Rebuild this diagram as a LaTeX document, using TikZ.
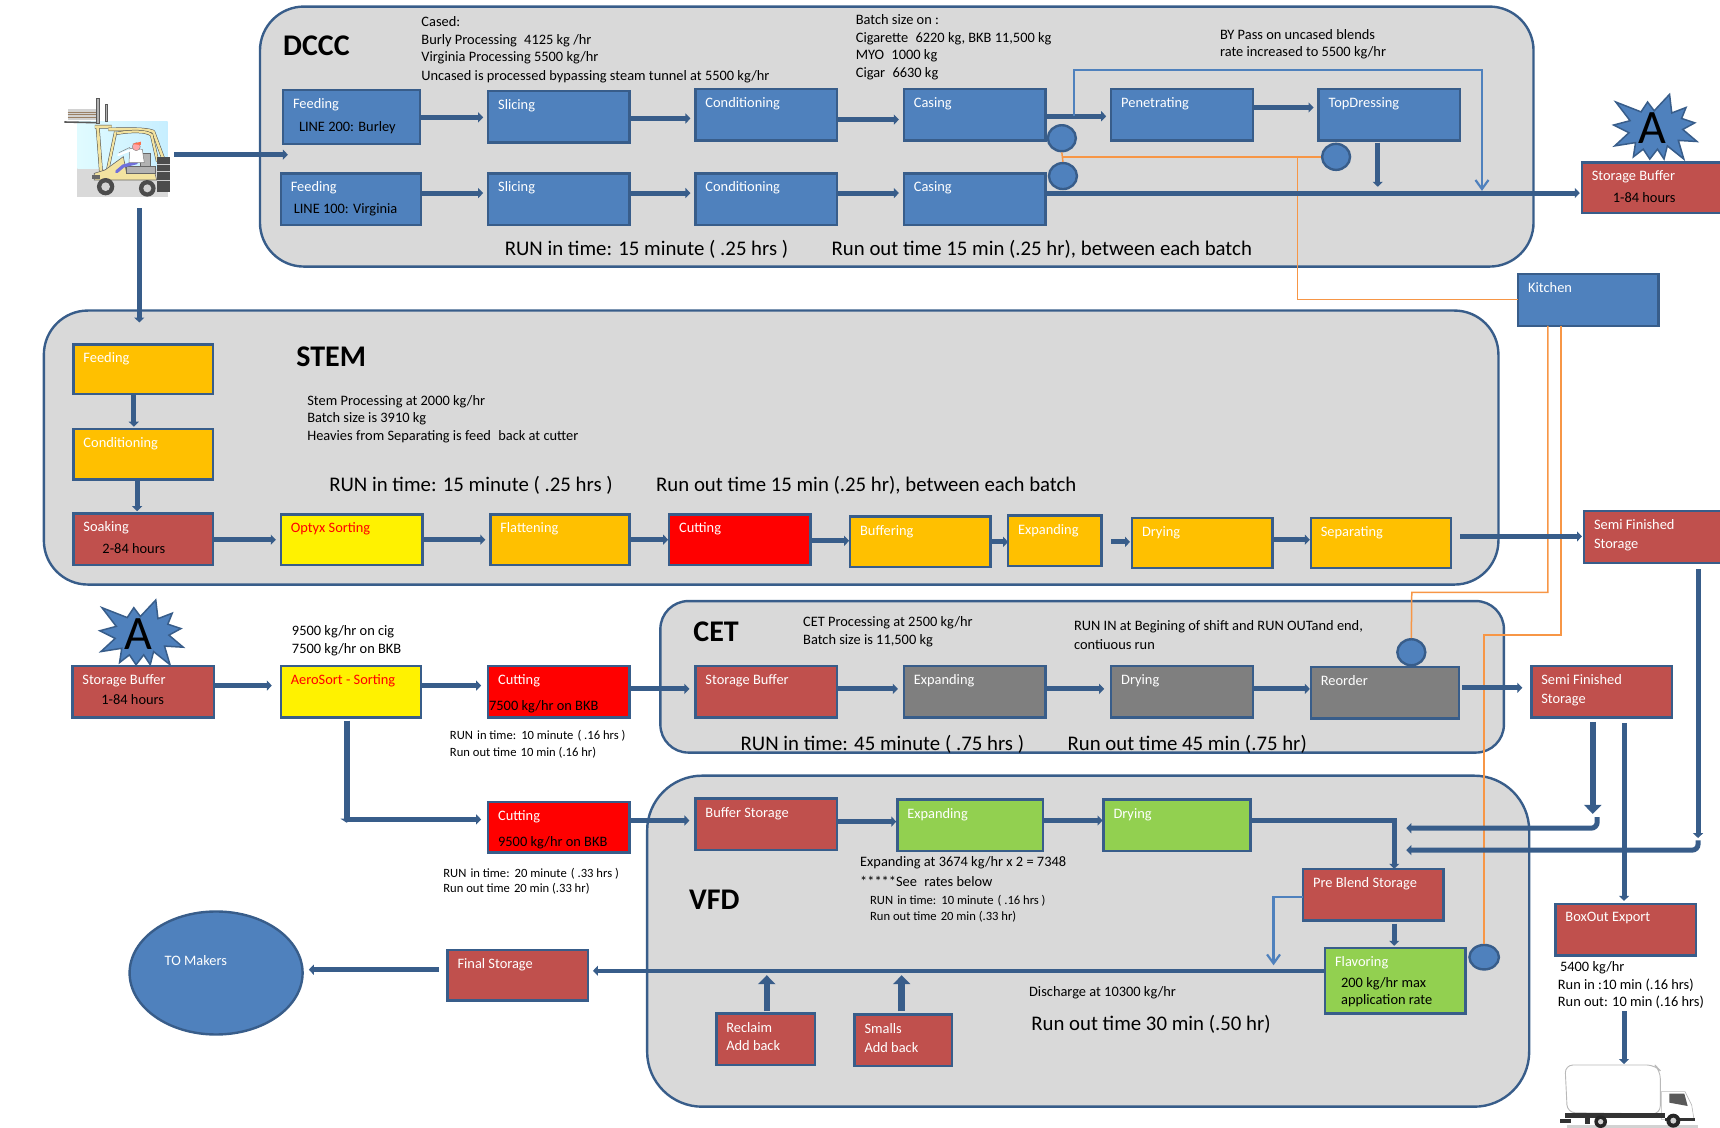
\documentclass[tikz,border=0pt]{standalone}
\usepackage{fontspec}
\setmainfont{Carlito}
\usetikzlibrary{arrows.meta,shapes.geometric}
\definecolor{ln}{HTML}{385D8A}
\definecolor{bl}{HTML}{4F81BD}
\definecolor{rd}{HTML}{C0504D}
\definecolor{gn}{HTML}{92D050}
\definecolor{am}{HTML}{FFC000}
\definecolor{gy}{HTML}{7F7F7F}
\definecolor{pn}{HTML}{D9D9D9}
\definecolor{og}{HTML}{F79646}
\definecolor{py}{HTML}{F3E3A0}
\newcounter{tn}
\newcommand\bx[7]{%
 \pgfmathsetlengthmacro\bw{1.0969*(#5-#3)*1pt}%
 \pgfmathsetlengthmacro\bh{1.0969*(#6-#4)*1pt}%
 \pgfmathsetlengthmacro\biw{\bw-20pt}%
 \pgfmathsetlengthmacro\bih{\bh-5pt}%
 \node[bxs,#2,minimum width=\bw,minimum height=\bh] (#1) at ({(#3+#5)/2},{(#4+#6)/2}) {\parbox[c][\bih][t]{\biw}{\raggedright\vspace*{6pt}#7}};}
\newcommand\tl[4][]{\stepcounter{tn}\node[txt,#1] (t\arabic{tn}) at (#2,#3) {#4};}
\newcommand\hc[4][]{\draw[arr,#1] (#2.east |- 0,#4) -- (#3.west |- 0,#4);}
\newcommand\blk[1]{\textcolor{black}{#1}}
\newcommand\dsp{\hspace{0.28em}}
\newcommand\dss{\hspace{0.1em}}
\newcommand\burst[3]{%
 \begin{scope}[shift={(#1,#2)}]
 \draw[ln,line width=1.5pt,fill=bl,line join=miter] (14,-30)--(16,-13)--(29,-18)--(25,-8)--(37,-4)--(26,2)--(39,13)--(22,12)--(27,29)--(12,17)--(9,29)--(3,20)--(-4,29)--(-10,20)--(-19,27)--(-17,14)--(-36,17)--(-23,5)--(-37,-2)--(-22,-6)--(-35,-23)--(-12,-14)--(-6,-23)--(0,-15)--cycle;
 \node[inner sep=0,font=\fontsize{48}{48}\selectfont,text=black] (#3) at (-2,1) {A};
 \end{scope}}
\tikzset{
 bxs/.style={draw=ln,line width=2.4pt,rectangle,inner sep=0pt,outer sep=0pt,text=white,font=\fontsize{14.4}{18}\selectfont},
 fblue/.style={fill=bl},
 fred/.style={fill=rd},
 fgreen/.style={fill=gn},
 famber/.style={fill=am},
 fgray/.style={fill=gy},
 fbright/.style={fill=red},
 fyellow/.style={fill=yellow,text=red},
 panel/.style={draw=ln,line width=2.4pt,fill=pn,rectangle,rounded corners=#1,inner sep=0pt},
 txt/.style={anchor=west,inner sep=0pt,yshift=-1pt,text=black,font=\fontsize{14.4}{18}\selectfont},
 big/.style={font=\fontsize{20.8}{22}\selectfont},
 small/.style={font=\fontsize{12.6}{15}\selectfont},
 ttl/.style={font=\fontsize{30}{32}\bfseries\selectfont},
 arr/.style={draw=ln,line width=5pt,shorten >=5pt,-{Triangle[length=5pt,width=10pt]}},
 fat/.style={draw=ln,line width=6.5pt,shorten >=0pt,-{Triangle[length=9pt,width=17pt]}},
 thin/.style={draw=bl,line width=2.2pt,-{Straight Barb[length=9pt,width=13pt]}},
 org/.style={draw=og,line width=1.5pt},
 circ/.style={ellipse,draw=ln,line width=2.4pt,fill=bl,inner sep=0pt,minimum width=28pt,minimum height=26pt},
}
\begin{document}
\begin{tikzpicture}[x=1.0969pt,y=-1.0969pt]
\useasboundingbox (0,0) rectangle (1568,1028.3);
\clip (0,0) rectangle (1568,1028.3);
% panels
\node[panel=44pt,minimum width=1273.5pt,minimum height=260pt] (dccc) at (817.5,124.5) {};
\node[panel=44pt,minimum width=1454.5pt,minimum height=274pt] (stem) at (703,408) {};
\node[panel=28pt,minimum width=843.5pt,minimum height=151.5pt] (cet) at (986.5,617) {};
\node[panel=55pt,minimum width=882pt,minimum height=331pt] (vfd) at (992,858) {};
% stars (under their boxes)
\burst{1508}{116}{a1}
\burst{128}{577}{a2}
% DCCC
\bx{f1}{fblue}{258}{82}{383}{131}{Feeding\\[5pt]\hspace*{6pt}\blk{LINE 200: Burley}}
\bx{s1}{fblue}{445}{83}{574}{130}{Slicing}
\bx{c1}{fblue}{634}{81}{763}{128}{Conditioning}
\bx{k1}{fblue}{824}{81}{953}{128}{Casing}
\bx{p1}{fblue}{1013}{81}{1142}{128}{Penetrating}
\bx{d1}{fblue}{1202}{81}{1331}{128}{TopDressing}
\bx{f2}{fblue}{256}{158}{384}{205}{Feeding\\[4pt]\hspace*{3pt}\blk{LINE 100: Virginia}}
\bx{s2}{fblue}{445}{158}{574}{205}{Slicing}
\bx{c2}{fblue}{634}{158}{763}{205}{Conditioning}
\bx{k2}{fblue}{824}{158}{953}{205}{Casing}
\bx{sb1}{fred}{1442}{148}{1572}{194}{Storage Buffer\\[4pt]\hspace*{21pt}\blk{1-84 hours}}
\bx{kit}{fblue}{1384}{250}{1512}{297}{Kitchen}
\node[circ] (o1) at (968,126) {};
\node[circ] (o2) at (969,160.5) {};
\node[circ] (o3) at (1218,143) {};
% STEM
\bx{sf}{famber}{67}{314}{194}{359}{Feeding}
\bx{sc}{famber}{67}{391}{194}{437}{Conditioning}
\bx{ss}{fred}{67}{468}{194}{515}{Soaking\\[4pt]\hspace*{19pt}\blk{2-84 hours}}
\bx{so}{fyellow}{256}{469}{385}{515}{Optyx Sorting}
\bx{sl}{famber}{447}{469}{574}{515}{Flattening}
\bx{su}{fbright}{610}{469}{739}{515}{Cutting}
\bx{sb}{famber}{775}{471}{903}{517}{Buffering}
\bx{se}{famber}{919}{470}{1004}{516}{Expanding}
\bx{sd}{famber}{1032}{472}{1160}{518}{Drying}
\bx{sp}{famber}{1195}{472}{1323}{518}{Separating}
\bx{sm1}{fred}{1444}{466}{1572}{513}{Semi Finished\\[1pt]Storage}
% row 3
\bx{sb2}{fred}{66}{607}{195}{654}{Storage Buffer\\[2pt]\hspace*{19pt}\blk{1-84 hours}}
\bx{ae}{fyellow}{256}{607}{384}{654}{AeroSort - Sorting}
\bx{cu1}{fbright}{445}{607}{574}{654}{Cutting\\[8pt]\hspace*{-9pt}\blk{7500 kg/hr on BKB}}
\bx{cb}{fred}{634}{607}{763}{654}{Storage Buffer}
\bx{ce}{fgray}{824}{607}{953}{654}{Expanding}
\bx{cd}{fgray}{1013}{607}{1142}{654}{Drying}
\bx{cr}{fgray}{1195}{608}{1330}{655}{Reorder}
\bx{sm2}{fred}{1396}{607}{1524}{654}{Semi Finished\\[1pt]Storage}
\node[circ] (o4) at (1286.6,594.6) {};
% row 4 / VFD
\bx{cu2}{fbright}{445}{731}{574}{777}{Cutting\\[8pt]\blk{9500 kg/hr on BKB}}
\bx{vb}{fred}{634}{728}{763}{775}{Buffer Storage}
\bx{ve}{fgreen}{818}{729}{951}{776}{Expanding}
\bx{vd}{fgreen}{1006}{729}{1140}{776}{Drying}
\bx{pb}{fred}{1188}{792}{1316}{839}{Pre Blend Storage}
\bx{fl}{fgreen}{1208}{864}{1336}{924}{Flavoring\\[3pt]\hspace*{6pt}\blk{200 kg/hr max}\\[-1pt]\hspace*{6pt}\blk{application rate}}
\bx{fs}{fred}{408}{866}{536}{912}{Final Storage}
\bx{re}{fred}{653}{924}{743}{971}{Reclaim\\Add back}
\bx{sa}{fred}{779}{925}{868}{972}{Smalls\\[1pt]Add back}
\bx{bo}{fred}{1418}{824}{1546}{871}{BoxOut Export}
\node[circ,minimum width=29.5pt,minimum height=24.5pt] (o5) at (1353,872.6) {};
\node[ellipse,draw=ln,line width=2.4pt,fill=bl,minimum width=173pt,minimum height=123pt,inner sep=0pt] (mk) at (197,887) {};
\tl[text=white]{150}{875}{TO Makers}
% titles
\tl[ttl]{258}{41}{DCCC}
\tl[ttl]{270}{324.5}{STEM}
\tl[ttl]{632}{575}{CET}
\tl[ttl]{628}{819}{VFD}
% notes
\tl{384}{19}{Cased:}
\tl{384}{36}{Burly Processing\dsp{} 4125 kg /hr}
\tl{384}{52}{Virginia Processing 5500 kg/hr}
\tl{384}{69}{Uncased is processed bypassing steam tunnel at 5500 kg/hr}
\tl{780}{17}{Batch size on :}
\tl{780}{34}{Cigarette\dsp{} 6220 kg, BKB 11,500 kg}
\tl{780}{50}{MYO\dsp{} 1000 kg}
\tl{780}{66}{Cigar\dsp{} 6630 kg}
\tl{1112}{31}{BY Pass on uncased blends}
\tl{1112}{47}{rate increased to 5500 kg/hr}
\tl[big]{460}{226.5}{RUN in time: 15 minute ( .25 hrs )}
\tl[big]{758}{226.5}{Run out time 15 min (.25 hr), between each batch}
\tl{280}{365}{Stem Processing at 2000 kg/hr}
\tl{280}{381}{Batch size is 3910 kg}
\tl{280}{397}{Heavies from Separating is feed\dsp{} back at cutter}
\tl[big]{300}{441.5}{RUN in time: 15 minute ( .25 hrs )}
\tl[big]{598}{441.5}{Run out time 15 min (.25 hr), between each batch}
\tl{266}{575}{9500 kg/hr on cig}
\tl{266}{591}{7500 kg/hr on BKB}
\tl{732}{567}{CET Processing at 2500 kg/hr}
\tl{732}{583}{Batch size is 11,500 kg}
\tl{979}{570}{RUN IN at Begining of shift and RUN OUTand end,}
\tl{979}{587}{contiuous run}
\tl[small]{410}{670}{RUN\dss{} in time:\dss{} 10 minute\dss{} ( .16 hrs )}
\tl[small]{410}{685}{Run out time\dss{} 10 min (.16 hr)}
\tl[small]{404}{796}{RUN\dss{} in time:\dss{} 20 minute\dss{} ( .33 hrs )}
\tl[small]{404}{809}{Run out time\dss{} 20 min (.33 hr)}
\tl[big]{675}{677.5}{RUN in time: 45 minute ( .75 hrs )}
\tl[big]{973}{677.5}{Run out time 45 min (.75 hr)}
\tl{784}{786}{Expanding at 3674 kg/hr x 2 = 7348}
\tl{784}{803}{*****See\dsp{} rates below}
\tl[small]{793}{820}{RUN\dss{} in time:\dss{} 10 minute\dss{} ( .16 hrs )}
\tl[small]{793}{835}{Run out time\dss{} 20 min (.33 hr)}
\tl{938}{904}{Discharge at 10300 kg/hr}
\tl[big]{940}{932.5}{Run out time 30 min (.50 hr)}
\tl{1422}{881}{5400 kg/hr}
\tl{1420}{897}{Run in :10 min (.16 hrs)}
\tl{1420}{913}{Run out: 10 min (.16 hrs)}
% forklift picture
\begin{scope}[shift={(50.1,82.05)},scale=.3039]
\fill[gray!30] (67,95) rectangle (338,320);
\fill[left color=blue!12!cyan!12!white,right color=blue!30!cyan!22!white] (67,95) rectangle (338,235);
\fill[gray!35] (38,58) rectangle (125,90);
\draw[brown!40!gray,line width=.8pt] (38,66)--(125,66) (38,74)--(125,74) (38,82)--(125,82);
\draw[gray!70!black,line width=1.6pt] (28,96)--(125,98);
\fill[gray!60] (123,25) rectangle (133,100);
\fill[gray!60] (150,42) rectangle (157,95);
\draw[gray!70!black,line width=.6pt] (123,25) rectangle (133,100) (150,42) rectangle (157,95);
% frame
\draw[black!70,line width=3.8pt,line join=round] (120,110)--(170,110) (128,110)--(140,270);
\draw[py,line width=2.8pt,line join=round] (120,110)--(170,110) (128,110)--(140,270);
\draw[black!70,line width=3.6pt,line join=round] (160,118) .. controls (220,118) and (270,115) .. (295,125) -- (330,220);
\draw[py,line width=2.6pt,line join=round] (160,118) .. controls (220,118) and (270,115) .. (295,125) -- (330,220);
\draw[black!70,line width=3.2pt] (182,125)--(155,255);
\draw[py,line width=2.2pt] (182,125)--(155,255);
\draw[black!70,line width=3.2pt] (185,130) .. controls (230,122) and (275,122) .. (290,135) -- (308,215);
\draw[py,line width=2.2pt] (185,130) .. controls (230,122) and (275,122) .. (290,135) -- (308,215);
% body
\fill[py,draw=black!60,line width=.6pt] (150,240)--(205,200)--(215,250)--(300,250)--(305,270)--(118,270)--(118,250)--cycle;
\fill[gray!60,draw=black!60,line width=.5pt] (215,228) rectangle (300,250);
\fill[gray!60,draw=black!60,line width=.5pt] (255,190) rectangle (285,230);
\fill[black!70] (305,200) rectangle (345,305);
\draw[gray!40,line width=.6pt] (305,222)--(345,222) (305,245)--(345,245) (305,270)--(345,270);
\fill[black!60] (112,255) rectangle (135,268);
% driver
\draw[blue!60!gray!70,line width=3.2pt,line cap=round] (245,218)--(205,228)--(185,245);
\fill[white,draw=black!50,line width=.5pt] (225,175)--(262,178)--(268,218)--(222,218)--cycle;
\draw[white,line width=2.2pt,line cap=round] (228,180)--(190,195);
\draw[black!50,line width=.5pt] (192,188)--(225,172);
\fill[red!35!white,draw=black!50,line width=.4pt] (244,170) circle (12);
\fill[red!60!orange!70] (232,162) -- (258,155) -- (258,165) -- cycle;
% wheels
\fill[black!70] (152,290) circle (26);
\fill[gray!35] (152,290) circle (13);
\fill[black!70] (277,295) circle (25);
\fill[gray!35] (277,295) circle (12);
\end{scope}
% truck picture
\begin{scope}[shift={(1413,957.2)},scale=.3039]
\fill[gray!35] (50,226) rectangle (445,240);
\fill[white,draw=gray!55,line width=.9pt,rounded corners=8pt] (45,45) -- (315,45) -- (331,62) -- (331,192) -- (52,188) -- cycle;
\fill[white,draw=gray!55,line width=.6pt] (334,125) -- (405,125) -- (425,165) -- (432,208) -- (334,208) -- cycle;
\fill[black!65] (358,131) -- (403,131) -- (413,168) -- (358,158) -- cycle;
\fill[black!80] (45,190) rectangle (345,205);
\fill[black!80] (30,208) rectangle (62,218);
\fill[black!80] (345,205) rectangle (435,214);
\fill[black!80] (105,205) rectangle (120,222);
\fill[black!85] (152,215) circle (19);
\fill[gray!35] (152,215) circle (8);
\fill[black!85] (370,212) circle (21);
\fill[gray!35] (370,212) circle (9);
\end{scope}
% orange lines
\draw[org] (o1.south) -- (o2.north);
\draw[org] (968,143) -- (o3.west);
\draw[org] (kit.west |- 0,273) -| (1183,143);
\draw[org] (1411,297) |- (1287,540) -- (o4.north);
\draw[org] (1423,297) |- (1353,579) -- (o5.north);
% DCCC arrows
\coordinate (lift) at (159,141);
\coordinate (liftd) at (127,190);
\coordinate (stemin) at (127,294);
\draw[arr] (lift) -- (267,141);
\draw[arr,shorten >=0pt] (liftd) -- (stemin);
\hc{f1}{s1}{107}
\hc{s1}{c1}{108}
\hc{c1}{k1}{109}
\hc{k1}{p1}{106}
\hc{p1}{d1}{98}
\hc{f2}{s2}{176}
\hc{s2}{c2}{176}
\hc{c2}{k2}{176}
\hc[shorten >=2pt]{k2}{sb1}{176}
\draw[arr,shorten >=3pt] (d1.south -| 1256,0) ++(0,2) -- (1256,173);
\draw[thin] (979,106) |- (1351,64) -- (1351,174);
% STEM arrows
\draw[arr,shorten >=0pt] (sf.south -| 122,0) -- (122,389);
\draw[arr,shorten >=0pt] (sc.south -| 125,0) -- (125,466);
\hc{ss}{so}{492}
\hc{so}{sl}{492}
\hc[shorten >=1pt]{sl}{su}{492}
\hc[shorten >=1pt]{su}{sb}{493}
\hc[shorten >=0pt]{sb}{se}{494}
\draw[arr,shorten >=2pt] (se.east |- 0,494) ++(9,0) -- (sd.west |- 0,494);
\hc[shorten >=1pt]{sd}{sp}{492}
\draw[arr,shorten >=2pt] (sp.east |- 0,489) ++(8,0) -- (sm1.west |- 0,489);
% row 3 arrows
\hc[shorten >=9pt]{sb2}{ae}{625}
\hc[shorten >=7pt]{ae}{cu1}{625}
\hc[shorten >=6pt]{cu1}{cb}{628}
\hc[shorten >=6pt]{cb}{ce}{628}
\hc[shorten >=7pt]{ce}{cd}{628}
\hc[shorten >=1pt]{cd}{cr}{628}
\draw[arr,shorten >=9pt] (cr.east |- 0,627) ++(3,0) -- (sm2.west |- 0,627);
% row 4 arrows
\draw[arr,line width=6pt,shorten >=0pt,-{Triangle[length=4pt,width=12pt]}] (ae.south -| 316,0) ++(0,3) -- (316,750);
\coordinate (jn) at (316,747);
\draw[arr,shorten >=7pt] (jn) -- (cu2.west |- jn);
\hc[shorten >=6pt]{cu2}{vb}{748}
\hc[shorten >=1pt]{vb}{ve}{749}
\hc[shorten >=1pt]{ve}{vd}{748}
\draw[arr,shorten >=0pt] (vd.east |- 0,748) -| (pb.north -| 1271,0);
\draw[arr,shorten >=2pt] (pb.south -| 1271,0) ++(0,3) -- (fl.north -| 1271,0);
\draw[thin] (pb.west |- 0,818) -| (1161,880);
\draw[arr,line width=4.5pt,shorten >=5pt] (fl.west |- 0,885) -- (fs.east |- 0,885);
\draw[arr,shorten >=5pt] (fs.west |- 0,884) ++(-8,0) -- (mk.east |- 0,884);
\draw[arr,line width=6.5pt,shorten >=0pt,-{Triangle[length=9pt,width=17pt]}] (re.north -| 699,0) ++(0,-2) -- (699,889);
\draw[arr,line width=6.5pt,shorten >=0pt,-{Triangle[length=9pt,width=17pt]}] (sa.north -| 822,0) ++(0,-3) -- (822,889);
% right-hand arrows
\draw[fat] (sm2.south -| 1452,0) ++(0,4) -- (1452,742);
\draw[arr,shorten >=0pt,rounded corners=6pt] (1456,745) |- (1282,755);
\draw[arr,shorten >=0pt] (sm1.south -| 1548,0) ++(0,6) -- (1548,764);
\draw[arr,shorten >=0pt,rounded corners=6pt] (1548,766) |- (1282,775);
\draw[arr,shorten >=3pt] (sm2.south -| 1480.5,0) ++(0,5) -- (bo.north -| 1480.5,0);
\coordinate (trk) at (1480.5,970);
\draw[arr,shorten >=0pt] (1480.5,922) -- (trk);
\end{tikzpicture}
\end{document}
